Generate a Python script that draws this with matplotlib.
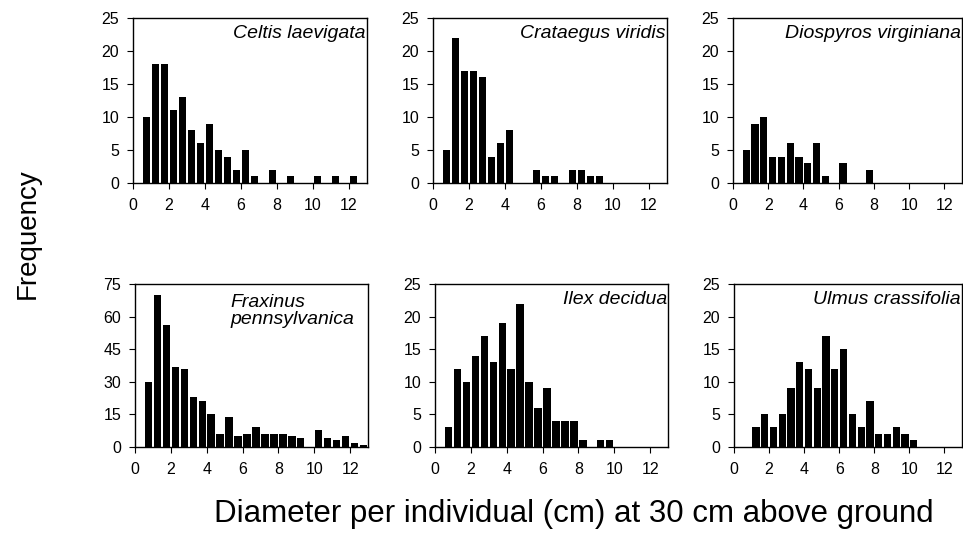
import numpy as np
import matplotlib
matplotlib.use('Agg')
import matplotlib.pyplot as plt

plt.rcParams['font.family'] = ['Liberation Sans', 'DejaVu Sans']

# bin centres, 0.5 cm classes
bins = np.arange(0.75, 13.0, 0.5)

celtis = [10, 18, 18, 11, 13, 8, 6, 9, 5, 4, 2, 5, 1, 0, 2, 0, 1, 0, 0, 1, 0, 1, 0, 1, 0]
crataegus = [5, 22, 17, 17, 16, 4, 6, 8, 0, 0, 2, 1, 1, 0, 2, 2, 1, 1, 0, 0, 0, 0, 0, 0, 0]
diospyros = [5, 9, 10, 4, 4, 6, 4, 3, 6, 1, 0, 3, 0, 0, 2, 0, 0, 0, 0, 0, 0, 0, 0, 0, 0]
fraxinus = [30, 70, 56, 37, 36, 23, 21, 15, 6, 14, 5, 6, 9, 6, 6, 6, 5, 4, 0, 8, 4, 3, 5, 2, 1]
ilex = [3, 12, 10, 14, 17, 13, 19, 12, 22, 10, 6, 9, 4, 4, 4, 1, 0, 1, 1, 0, 0, 0, 0, 0, 0]
ulmus = [0, 3, 5, 3, 5, 9, 13, 12, 9, 17, 12, 15, 5, 3, 7, 2, 2, 3, 2, 1, 0, 0, 0, 0, 0]

species = ['Celtis laevigata', 'Crataegus viridis', 'Diospyros virginiana',
           'Fraxinus\npennsylvanica', 'Ilex decidua', 'Ulmus crassifolia']
counts = [celtis, crataegus, diospyros, fraxinus, ilex, ulmus]
ymax = [25, 25, 25, 75, 25, 25]
ystep = [5, 5, 5, 15, 5, 5]

W, H = 963, 552
fig = plt.figure(figsize=(W / 100, H / 100), dpi=100)

# axes boxes in pixels: left, top, right, bottom
boxes = [(133, 18, 367, 183), (433, 18, 667, 183), (733, 18, 962, 183),
         (135, 284, 368, 447), (435, 284, 668, 447), (734, 284, 962, 447)]

for i, (l, t, r, b) in enumerate(boxes):
    ax = fig.add_axes([l / W, 1 - b / H, (r - l) / W, (b - t) / H])
    ax.bar(bins, counts[i], width=0.41, color='black', align='center')
    ax.set_xlim(0, 13)
    ax.set_ylim(0, ymax[i])
    ax.set_xticks(np.arange(0, 13, 2))
    ax.set_yticks(np.arange(0, ymax[i] + 1, ystep[i]))
    ax.tick_params(direction='out', length=4, labelsize=11.5, width=0.8)
    ax.tick_params(axis='x', pad=7)
    ax.tick_params(axis='y', pad=6)
    for s in ax.spines.values():
        s.set_linewidth(1.0)
    if i == 3:
        ax.text(0.41, 0.94, species[i], transform=ax.transAxes, ha='left', va='top',
                style='italic', fontsize=14, linespacing=1.05)
    else:
        ax.text(0.995, 0.96, species[i], transform=ax.transAxes, ha='right', va='top',
                style='italic', fontsize=14)

fig.text(28 / W, 1 - 234 / H, 'Frequency', rotation=90, ha='center', va='center', fontsize=20)
fig.text(574 / W, 1 - 514 / H, 'Diameter per individual (cm) at 30 cm above ground',
         ha='center', va='center', fontsize=22.5)

fig.savefig('out.png', dpi=100)
